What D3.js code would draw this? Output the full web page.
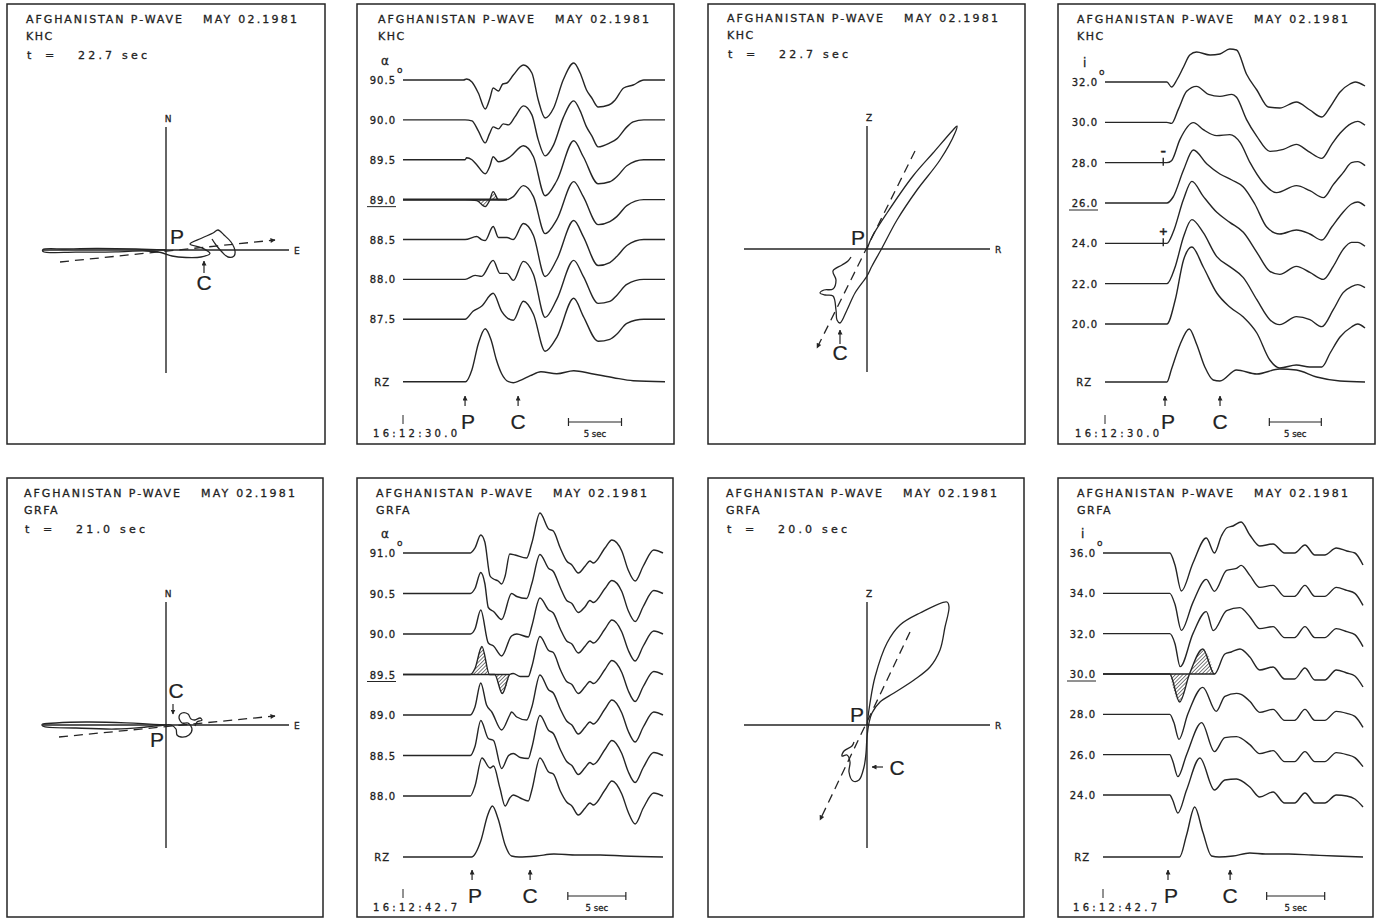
<!DOCTYPE html>
<html>
<head>
<meta charset="utf-8">
<script src="https://cdn.jsdelivr.net/npm/d3@7"></script>
<style>
  body { margin: 0; background: #fff; }
  svg text { font-family: "DejaVu Sans", sans-serif; fill: #222; stroke: #222; stroke-width: 0.3px; }
  svg .big { font-family: "Liberation Sans", Arial, sans-serif; stroke-width: 0.2px; }
</style>
</head>
<body>
<svg id="fig" width="1383" height="919"></svg>
<script>

// Header texts.
const eventTitle = "AFGHANISTAN P-WAVE";
const eventDate = "MAY 02.1981";
const stations = ["KHC", "GRFA"];
const neWindows = ["22.7 sec", "21.0 sec"];
const zrWindows = ["22.7 sec", "20.0 sec"];
const startTimes = ["16:12:30.0", "16:12:42.7"];

// Particle motion (E, N) and (R, Z), relative amplitude.
const khcNE = [[0,0],[-3,0.1],[-7,0.15],[-10,0.1],[-12.3,0.05],[-12.3,-0.15],[-9,-0.22],[-5,-0.18],[-2,-0.1],[-0.5,-0.25],[0.6,-0.6],[2,-0.75],[3.5,-0.7],[4.4,-0.35],[3.6,0.2],[2.4,0.6],[3.6,1.2],[4.7,1.7],[5.2,2.0],[5.8,1.5],[6.5,0.8],[6.9,-0.1],[6.8,-0.6],[6.2,-0.7],[5.6,-0.2],[5.0,0.5],[4.6,1.1]];
const khcNEPol = [[-10.6,-1.2],[10.9,1.0]];
const grfaNE = [[0,0],[-4,0.22],[-8,0.3],[-11,0.2],[-12.4,0.05],[-12.3,-0.12],[-9,-0.3],[-5,-0.4],[-2,-0.2],[-0.5,-0.05],[0.5,0],[1.0,-0.4],[1.1,-1.0],[1.5,-1.2],[2.3,-1.0],[2.6,-0.4],[2.2,0.2],[1.6,0.2],[1.3,0.8],[1.6,1.2],[2.2,1.1],[2.5,0.6],[2.9,0.5],[3.4,0.7],[3.6,0.5],[3.1,0.3],[2.9,-0.1]];
const grfaNEPol = [[-10.7,-1.2],[10.9,0.9]];
const khcZR = [[0,0],[0.5,1.2],[2.0,3.6],[4.6,7.3],[6.6,9.6],[8.6,11.9],[9.0,12.3],[8.8,11.6],[7.3,8.9],[5.0,5.9],[3.0,2.9],[1.5,0.1],[0.5,-1.7],[0,-2.7],[-1.2,-4.4],[-2.0,-6.1],[-2.7,-7.4],[-3.0,-7.1],[-3.1,-6.1],[-3.4,-4.7],[-4.2,-4.6],[-4.7,-4.4],[-4.3,-4.1],[-3.4,-4.0],[-3.1,-3.1],[-3.4,-2.2],[-2.5,-1.6],[-1.9,-1.2],[-1.6,-0.8]];
const khcZRPol = [[4.8,9.8],[-5.0,-9.9]];
const grfaZR = [[0,0],[0.3,2.2],[0.8,4.8],[2.0,8.2],[3.3,10.0],[5.3,11.2],[8.0,12.3],[8.2,11.8],[7.8,9.8],[7.3,7.5],[6.3,5.8],[4.7,4.5],[2.7,3.2],[1.3,2.3],[0.5,1.2],[0.2,0.2],[0,-1.2],[-0.1,-2.8],[-0.3,-4.2],[-0.8,-5.5],[-1.4,-5.6],[-1.8,-4.7],[-1.7,-3.7],[-2.0,-3.0],[-2.5,-3.1],[-2.3,-2.6],[-1.5,-2.1],[-1.3,-1.7]];
const grfaZRPol = [[4.3,9.3],[-4.7,-9.5]];

// Beam traces: [time (s), amplitude].
const khcAzLabels = ["90.5","90.0","89.5","89.0","88.5","88.0","87.5","RZ"];
const khcAzTraces = [
  [[0,0],[5.7,0],[6.0,0.1],[6.5,-0.2],[7.1,-1.3],[7.75,-2.9],[8.2,-1.8],[8.5,-0.8],[9.0,-1.1],[9.4,-0.4],[9.8,-0.3],[10.4,0.5],[11.35,1.5],[12.15,0.7],[12.75,-2.0],[13.4,-3.8],[14.2,-2.8],[15.1,0],[16.1,1.7],[16.7,0.7],[17.3,-1.0],[17.8,-1.8],[18.4,-2.7],[19.4,-2.5],[20.0,-2.0],[20.8,-0.8],[21.7,-0.5],[22.7,0],[24.7,0]],
  [[0,0],[5.85,0],[6.5,-0.1],[7.1,-1.1],[7.75,-2.3],[8.15,-1.4],[8.5,-0.7],[9.0,-0.9],[9.45,-0.4],[9.95,-0.5],[10.55,0.3],[11.35,1.4],[12.15,0.5],[12.75,-2.0],[13.4,-3.6],[14.2,-2.5],[15.1,0.2],[16.1,1.9],[16.7,0.9],[17.3,-0.7],[17.8,-1.6],[18.4,-2.7],[19.5,-2.3],[20.15,-1.9],[21.1,-0.7],[21.7,-0.2],[22.7,0],[24.7,0]],
  [[0,0],[5.85,0],[6.0,0.2],[6.5,0],[6.95,-0.5],[7.75,-1.4],[8.2,-0.6],[8.5,0.3],[9.0,-0.2],[9.45,-0.1],[10.1,0.3],[11.35,1.4],[12.3,0.3],[13.4,-3.6],[14.5,-2.1],[16.1,1.9],[17.0,0.3],[18.4,-2.4],[19.5,-2.2],[20.15,-1.7],[21.1,-0.6],[22.7,0],[24.7,0]],
  [[0,0],[5.85,0],[6.95,-0.1],[7.75,-0.7],[8.15,-0.1],[8.5,0.8],[9.0,0],[9.8,0],[10.4,0.3],[11.35,1.4],[12.3,0.3],[13.4,-3.4],[14.5,-2.0],[16.1,1.8],[17.0,0.3],[18.4,-2.5],[19.5,-2.2],[20.15,-1.7],[21.1,-0.6],[22.7,0],[24.7,0]],
  [[0,0],[5.85,0],[6.95,0.3],[7.4,0],[7.75,-0.1],[8.5,1.3],[9.0,0.2],[9.8,0.2],[10.4,0],[11.35,1.6],[12.3,0.4],[13.4,-3.7],[14.5,-2.0],[16.1,1.9],[17.0,0.3],[18.4,-2.6],[19.5,-2.3],[20.15,-1.7],[21.1,-0.6],[22.7,0],[24.7,0]],
  [[0,0],[5.85,0],[6.8,0.4],[7.4,0.3],[8.5,1.9],[9.15,0.6],[9.8,0.6],[10.4,-0.1],[11.35,1.8],[12.3,0.5],[13.4,-3.8],[14.5,-2.0],[16.1,1.9],[17.0,0.3],[18.4,-2.4],[19.5,-2.2],[20.15,-1.6],[21.1,-0.5],[22.7,0],[24.7,0]],
  [[0,0],[5.85,0],[6.6,0.8],[7.4,1.3],[8.5,2.6],[9.3,0.8],[10.4,-0.1],[11.35,1.8],[12.3,0.5],[13.4,-3.2],[14.5,-1.8],[16.1,2.1],[17.0,0.3],[18.4,-2.2],[19.5,-2.0],[20.15,-1.5],[21.1,-0.4],[22.7,0],[24.7,0]],
  [[0,0],[5.9,0],[6.5,1.2],[7.1,3.8],[7.75,5.3],[8.3,4.2],[8.8,2.2],[9.3,0.8],[9.95,0],[10.4,-0.1],[11.0,0.1],[12.0,0.6],[13.0,1.0],[14.5,0.8],[16.1,1.1],[17.8,0.8],[19.85,0.4],[21.7,0.1],[24.7,0]]
];

const khcIncLabels = ["32.0","30.0","28.0","26.0","24.0","22.0","20.0","RZ"];
const khcIncTraces = [
  [[0,0],[5.95,0],[6.4,-0.5],[6.9,0.2],[7.55,1.5],[8.15,2.7],[8.8,3.0],[10.1,2.7],[11.05,2.8],[12.0,3.3],[12.65,3.2],[13.6,0.8],[14.6,-0.8],[15.7,-2.5],[16.8,-2.6],[18.4,-2.0],[19.7,-2.8],[20.85,-3.5],[21.65,-2.5],[22.6,-1.0],[23.55,-0.2],[24.05,0],[25,-0.4]],
  [[0,0],[5.95,0],[6.4,-0.1],[7.05,1.3],[7.85,3.1],[8.8,3.6],[9.95,2.8],[11.05,2.6],[12.2,2.8],[12.65,2.5],[13.6,0.3],[14.6,-1.4],[15.85,-2.9],[17.15,-2.7],[18.4,-2.2],[19.55,-2.9],[20.85,-3.6],[21.8,-2.2],[22.6,-1.1],[23.7,-0.1],[24.3,0.1],[25,-0.3]],
  [[0,0],[5.95,0],[6.4,0.2],[7.2,2.3],[8.5,4.0],[9.45,3.3],[10.75,2.7],[12.0,2.8],[13.0,2.0],[13.95,0],[15.2,-2.0],[16.5,-3.0],[18.4,-2.3],[19.7,-2.8],[21.0,-3.5],[21.95,-2.2],[22.9,-1.0],[23.7,0],[24.3,0.1],[25,-0.3]],
  [[0,0],[5.95,0],[6.55,0.6],[7.55,3.3],[8.5,5.3],[9.8,3.9],[11.05,2.9],[12.2,2.3],[13.3,1.6],[14.4,-0.1],[15.55,-2.4],[16.8,-3.1],[18.4,-2.7],[19.7,-3.1],[20.85,-3.7],[21.8,-2.4],[22.75,-1.1],[23.7,-0.1],[24.3,0.1],[25,-0.3]],
  [[0,0],[5.95,0],[6.55,1.1],[7.55,4.4],[8.35,6.2],[9.45,4.7],[10.75,3.1],[12.0,2.1],[13.3,1.1],[14.6,-0.9],[15.85,-2.8],[16.8,-3.1],[18.4,-2.3],[19.7,-2.9],[21.0,-3.6],[21.95,-2.3],[22.9,-0.6],[23.7,0.1],[24.3,0.1],[25,-0.3]],
  [[0,0],[5.95,0],[6.75,1.7],[7.55,4.7],[8.35,6.4],[9.45,5.1],[10.75,2.7],[12.0,1.7],[13.3,0.6],[14.6,-1.6],[15.85,-3.6],[16.8,-4.1],[18.4,-3.3],[19.7,-3.6],[20.85,-4.3],[21.95,-2.6],[22.9,-0.9],[23.7,-0.3],[24.3,-0.1],[25,-0.4]],
  [[0,0],[5.95,0],[6.75,2.4],[7.55,6.4],[8.35,7.7],[9.45,5.7],[10.75,3.1],[12.0,1.7],[13.3,0.7],[14.6,-0.9],[15.85,-3.6],[16.8,-4.4],[18.4,-4.1],[19.7,-4.3],[20.85,-4.3],[21.65,-2.9],[22.6,-1.3],[23.7,-0.3],[24.3,0],[25,-0.4]],
  [[0,0],[5.95,0],[6.4,1.3],[7.2,3.7],[8.1,5.3],[8.8,3.8],[9.6,1.5],[10.4,0.2],[11.05,0.1],[12.65,1.2],[14.6,0.8],[16.8,1.3],[18.4,1.2],[20.35,0.5],[22.6,0.1],[25,0]]
];

const grfaAzLabels = ["91.0","90.5","90.0","89.5","89.0","88.5","88.0","RZ"];
const grfaAzTraces = [
  [[0,0],[5.8,0],[6.2,0.5],[6.7,1.8],[7.05,1.1],[7.5,-2.3],[7.8,-2.6],[8.2,-2.8],[8.5,-3.1],[8.8,-2.3],[9.2,-0.1],[9.65,-0.2],[10.65,-0.5],[11.1,1.0],[11.8,4.0],[12.55,2.4],[12.95,2.2],[13.55,0.5],[14.1,-0.8],[14.55,-1.2],[15.1,-2.0],[15.7,-1.3],[16.1,-0.8],[16.4,-1.0],[17.4,0.5],[18.0,1.3],[18.85,0.2],[19.4,-1.7],[20.0,-2.8],[20.7,-1.3],[21.6,0.3],[22.4,0]],
  [[0,0],[5.8,0],[6.2,0.5],[6.7,2.1],[7.05,1.0],[7.35,-1.4],[7.8,-1.8],[8.5,-2.6],[9.35,0],[9.8,-0.3],[10.65,-0.5],[11.1,1.0],[11.8,3.9],[12.55,2.5],[12.95,2.2],[13.55,0.6],[14.1,-0.7],[14.55,-1.0],[15.1,-1.9],[15.7,-1.3],[16.1,-0.7],[16.4,-0.9],[17.4,0.5],[18.0,1.3],[18.85,0.2],[19.4,-1.7],[20.0,-2.8],[20.7,-1.3],[21.6,0.3],[22.4,0]],
  [[0,0],[5.8,0],[6.2,0.5],[6.7,2.4],[7.35,-0.9],[7.8,-1.2],[8.5,-2.2],[9.35,-0.2],[9.8,0],[10.8,-0.3],[11.1,0.8],[11.8,3.6],[12.55,2.4],[12.95,2.1],[13.55,0.5],[14.1,-0.7],[14.55,-1.0],[15.1,-1.9],[15.7,-1.2],[16.1,-0.7],[16.4,-0.9],[17.4,0.5],[18.0,1.4],[18.85,0.2],[19.4,-1.6],[20.0,-2.7],[20.7,-1.2],[21.6,0.3],[22.4,0]],
  [[0,0],[5.8,0],[6.2,0.6],[6.8,2.8],[7.45,0],[7.9,0],[8.55,-1.9],[9.2,0],[9.5,0.1],[10.1,-0.2],[10.8,-0.2],[11.1,0.8],[11.8,3.8],[12.55,2.4],[12.95,2.2],[13.55,0.5],[14.1,-0.7],[14.55,-1.0],[15.1,-1.9],[15.7,-1.2],[16.1,-0.7],[16.4,-0.9],[17.4,0.5],[18.0,1.4],[18.85,0.2],[19.4,-1.6],[20.0,-2.7],[20.7,-1.2],[21.6,0.3],[22.4,0]],
  [[0,0],[5.8,0],[6.2,0.8],[6.7,3.2],[7.2,1.0],[7.65,0.3],[8.5,-1.5],[9.2,0],[9.35,0.3],[9.8,-0.2],[10.65,-0.5],[11.1,0.8],[11.8,4.0],[12.55,2.5],[12.95,2.2],[13.55,0.6],[14.1,-0.6],[14.55,-1.0],[15.1,-1.9],[15.7,-1.2],[16.1,-0.7],[16.4,-0.9],[17.4,0.6],[18.0,1.5],[18.85,0.2],[19.4,-1.6],[20.0,-2.7],[20.7,-1.2],[21.6,0.3],[22.4,0]],
  [[0,0],[5.8,0],[6.2,0.9],[6.7,3.5],[7.35,1.7],[7.8,1.5],[8.5,-1.3],[9.1,0],[9.5,0.2],[10.1,-0.2],[10.8,-0.3],[11.1,0.8],[11.8,4.0],[12.55,2.5],[12.95,2.2],[13.55,0.6],[14.1,-0.6],[14.55,-1.0],[15.1,-1.9],[15.7,-1.2],[16.1,-0.7],[16.4,-0.9],[17.4,0.6],[18.0,1.5],[18.85,0.2],[19.4,-1.6],[20.0,-2.7],[20.7,-1.2],[21.6,0.3],[22.4,0]],
  [[0,0],[5.8,0],[6.2,1.0],[6.8,3.8],[7.5,2.8],[7.8,3.0],[8.35,0.8],[8.8,-1.0],[9.2,-0.2],[9.5,0.1],[10.1,-0.2],[10.8,-0.5],[11.1,0.6],[11.8,3.8],[12.55,2.4],[12.95,2.2],[13.55,0.5],[14.1,-0.6],[14.55,-1.0],[15.1,-1.9],[15.7,-1.2],[16.1,-0.7],[16.4,-0.9],[17.4,0.6],[18.0,1.5],[18.85,0.2],[19.4,-1.6],[20.0,-2.8],[20.7,-1.2],[21.6,0.3],[22.4,0]],
  [[0,0],[5.9,0],[6.7,1.6],[7.3,4.2],[7.7,5.1],[8.2,3.8],[8.8,1.2],[9.35,0.1],[10,0],[11.5,0.1],[13,0.3],[15,0.2],[17,0.2],[19,0.1],[22.4,0]]
];

const grfaIncLabels = ["36.0","34.0","32.0","30.0","28.0","26.0","24.0","RZ"];
const grfaIncTraces = [
  [[0,0],[5.75,0],[6.2,-1.2],[6.75,-3.8],[7.75,-1.0],[8.9,1.5],[9.6,0],[10.2,1.7],[10.65,2.5],[11.2,2.7],[11.9,3.1],[12.65,1.8],[13.5,0.7],[14.65,0.9],[15.65,0],[16.5,0],[17.4,0.8],[18.25,-0.2],[19.1,-0.2],[20.1,0.5],[21.0,0.2],[21.7,0],[22.4,-1.2]],
  [[0,0],[5.75,0],[6.2,-1.1],[6.75,-3.7],[7.75,-0.9],[8.9,1.4],[9.6,0.2],[10.65,2.3],[11.5,2.5],[11.9,2.8],[12.65,1.8],[13.5,0.6],[14.65,0.8],[15.65,-0.3],[16.5,-0.3],[17.4,0.8],[18.25,-0.3],[19.1,-0.3],[20.1,0.6],[21.0,0.3],[21.7,0],[22.4,-1.2]],
  [[0,0],[5.75,0],[6.2,-1.0],[6.65,-3.3],[7.75,0],[8.9,2.2],[9.5,0.3],[10.65,2.3],[11.8,2.6],[12.65,1.7],[13.5,0.5],[14.65,0.7],[15.65,-0.4],[16.5,-0.4],[17.4,0.7],[18.25,-0.4],[19.1,-0.4],[20.1,0.5],[21.0,0.2],[21.7,-0.1],[22.4,-1.3]],
  [[0,0],[5.75,0],[6.6,-2.8],[7.45,0],[8.6,2.5],[9.6,0],[10.5,2.0],[11.05,2.2],[11.8,2.5],[12.65,1.7],[13.5,0.4],[14.65,0.7],[15.65,-0.5],[16.5,-0.5],[17.4,0.6],[18.25,-0.6],[19.1,-0.6],[20.1,0.4],[21.0,0.1],[21.7,-0.2],[22.4,-1.3]],
  [[0,0],[5.75,0],[6.1,-0.8],[6.55,-2.5],[7.3,0],[8.6,2.7],[9.75,0.3],[10.5,1.8],[11.5,2.1],[11.9,2.0],[12.65,1.3],[13.5,0.2],[14.65,0.5],[15.65,-0.6],[16.5,-0.6],[17.4,0.5],[18.25,-0.6],[19.1,-0.6],[20.1,0.3],[21.0,0.1],[21.7,-0.2],[22.4,-1.3]],
  [[0,0],[5.75,0],[6.0,-0.6],[6.45,-2.2],[7.2,0],[8.5,3.2],[9.6,0.3],[10.5,1.7],[11.5,1.8],[12.65,1.0],[13.5,0.1],[14.65,0.4],[15.65,-0.7],[16.5,-0.7],[17.4,0.3],[18.25,-0.7],[19.1,-0.7],[20.1,0.2],[21.0,0],[21.7,-0.3],[22.4,-1.2]],
  [[0,0],[5.75,0],[6.0,-0.5],[6.45,-1.8],[7.2,0.5],[8.35,3.7],[9.6,0.5],[10.5,1.5],[11.5,1.6],[12.65,0.8],[13.5,-0.2],[14.65,0.3],[15.65,-0.8],[16.5,-0.8],[17.4,0.2],[18.25,-0.8],[19.1,-0.8],[20.1,0],[21.0,-0.1],[21.7,-0.4],[22.4,-1.2]],
  [[0,0],[6.6,0],[7.2,2.2],[7.9,5.0],[8.6,2.5],[9.35,0.1],[10,0],[11.2,0.1],[12.65,0.4],[14,0.3],[16,0.3],[18,0.2],[20,0.1],[22.4,0]]
];

// Phase picks (s after start time) and 5 s bar start.
const khcPhases = { az: [5.85, 10.85, 15.6], inc: [5.77, 11.06, 15.8] };
const grfaPhases = { az: [5.95, 10.95, 14.2], inc: [5.6, 10.95, 14.1] };

const ink = "#252525";
const svg = d3.select("#fig");
const defs = svg.append("defs");

// Hatch fill for the chosen beam.
defs.append("pattern")
    .attr("id", "hatch")
    .attr("patternUnits", "userSpaceOnUse")
    .attr("width", 2.6).attr("height", 2.6)
    .attr("patternTransform", "rotate(45)")
  .append("line")
    .attr("x1", 0).attr("y1", 0).attr("x2", 0).attr("y2", 2.6)
    .attr("stroke", ink).attr("stroke-width", 1.2);

// Arrow heads.
function marker(id, w, h) {
    defs.append("marker")
        .attr("id", id)
        .attr("viewBox", "0 0 10 10")
        .attr("refX", 9).attr("refY", 5)
        .attr("markerUnits", "userSpaceOnUse")
        .attr("markerWidth", w).attr("markerHeight", h)
        .attr("orient", "auto")
      .append("path")
        .attr("d", "M0,0 L10,5 L0,10 Z")
        .attr("fill", ink);
}
marker("pol", 10, 5);
marker("tick", 5, 5);

function frame(x, y, w, h) {
    svg.append("rect")
        .attr("x", x).attr("y", y).attr("width", w).attr("height", h)
        .attr("fill", "none").attr("stroke", ink).attr("stroke-width", 1.5);
}

function header(px, py, station, win) {
    const g = svg.append("g").style("font-size", "11px");
    g.append("text").attr("x", px + 19).attr("y", py + 19)
        .attr("textLength", 156).attr("lengthAdjust", "spacing").text(eventTitle);
    g.append("text").attr("x", px + 196).attr("y", py + 19)
        .attr("textLength", 94).attr("lengthAdjust", "spacing").text(eventDate);
    g.append("text").attr("x", px + 19).attr("y", py + 36)
        .style("letter-spacing", "1.5px").text(station);
    if (win) {
        g.append("text").attr("x", px + 20).attr("y", py + 55).text("t");
        g.append("text").attr("x", px + 38).attr("y", py + 55).text("=");
        g.append("text").attr("x", px + 71).attr("y", py + 55)
            .attr("textLength", 69).attr("lengthAdjust", "spacing").text(win);
    }
}

function upArrow(g, x1, y1, x2, y2) {
    g.append("line")
        .attr("x1", x1).attr("y1", y1).attr("x2", x2).attr("y2", y2)
        .attr("stroke", ink).attr("stroke-width", 1.2)
        .attr("marker-end", "url(#tick)");
}

function bigLetter(g, x, y, s, anchor) {
    g.append("text").attr("class", "big")
        .attr("x", x).attr("y", y)
        .attr("text-anchor", anchor || "middle")
        .style("font-size", "21px")
        .text(s);
}

// Hodogram panel.
function drawHodo(cfg) {
    const g = svg.append("g");
    const lim = 12.3;
    const x = d3.scaleLinear().domain([-lim, lim]).range([cfg.cx - 123, cfg.cx + 123]);
    const y = d3.scaleLinear().domain([-lim, lim]).range([cfg.cy + 123, cfg.cy - 123]);

    g.append("line").attr("x1", x(-lim)).attr("x2", x(lim)).attr("y1", y(0)).attr("y2", y(0))
        .attr("stroke", ink).attr("stroke-width", 1.4);
    g.append("line").attr("x1", x(0)).attr("x2", x(0)).attr("y1", y(lim)).attr("y2", y(-lim))
        .attr("stroke", ink).attr("stroke-width", 1.4);
    g.append("text").attr("x", x(0) + 2).attr("y", y(lim) - 5)
        .attr("text-anchor", "middle").style("font-size", "9px").text(cfg.vLabel);
    g.append("text").attr("x", x(lim) + 5).attr("y", y(0) + 3.5)
        .style("font-size", "9px").text(cfg.hLabel);

    const path = d3.line().curve(d3.curveCatmullRom.alpha(0.5))
        .x(d => x(d[0])).y(d => y(d[1]));
    g.append("path").attr("d", path(cfg.motion))
        .attr("fill", "none").attr("stroke", ink).attr("stroke-width", 1.3);

    g.append("path").attr("d", d3.line().x(d => x(d[0])).y(d => y(d[1]))(cfg.pol))
        .attr("fill", "none").attr("stroke", ink).attr("stroke-width", 1.3)
        .attr("stroke-dasharray", "9,6")
        .attr("marker-end", "url(#pol)");

    bigLetter(g, cfg.cx + cfg.P[0], cfg.cy + cfg.P[1], "P", cfg.P[2]);
    bigLetter(g, cfg.cx + cfg.C[0], cfg.cy + cfg.C[1], "C");
    const a = cfg.Carrow;
    upArrow(g, cfg.cx + a[0], cfg.cy + a[1], cfg.cx + a[2], cfg.cy + a[3]);
}

// Beam (vespagram) panel.
function drawBeams(cfg) {
    const g = svg.append("g");
    const x = d3.scaleLinear().domain([0, cfg.tEnd]).range([cfg.x0, cfg.x1]);
    const row = d3.scaleLinear().domain([0, 6]).range([cfg.baseTop, cfg.baseBottom]);
    const amp = d3.scaleLinear().domain([0, 1]).range([0, -10]);
    const baseOf = i => i < 7 ? row(i) : cfg.baseRZ;

    cfg.traces.forEach((tr, i) => {
        const b = baseOf(i);
        const line = d3.line().curve(d3.curveMonotoneX)
            .x(d => x(d[0])).y(d => b + amp(d[1]));

        if (i === cfg.selected) {
            const win = tr.filter(d => d[0] >= cfg.hatch[0] && d[0] <= cfg.hatch[1]);
            const area = d3.area().curve(d3.curveMonotoneX)
                .x(d => x(d[0])).y0(b).y1(d => b + amp(d[1]));
            g.append("path").attr("d", area(win))
                .attr("fill", "url(#hatch)").attr("stroke", "none");
            g.append("line")
                .attr("x1", x(0)).attr("x2", x(cfg.hatch[1]))
                .attr("y1", b).attr("y2", b)
                .attr("stroke", ink).attr("stroke-width", cfg.bold ? 2.2 : 1.4);
            g.append("line")
                .attr("x1", cfg.x0 - 36).attr("x2", cfg.x0 - 7)
                .attr("y1", b + 7).attr("y2", b + 7)
                .attr("stroke", ink).attr("stroke-width", 1);
        }

        g.append("path").attr("d", line(tr))
            .attr("fill", "none").attr("stroke", ink).attr("stroke-width", 1.4);

        g.append("text")
            .attr("x", i < 7 ? cfg.x0 - 7 : cfg.x0 - 13)
            .attr("y", b + 4)
            .attr("text-anchor", "end")
            .style("font-size", "10px").style("letter-spacing", "1px")
            .text(cfg.labels[i]);
    });

    // Slowness symbol and degree mark.
    g.append("text").attr("x", cfg.x0 - 22).attr("y", row(0) - 15)
        .style("font-size", "12px").text(cfg.symbol);
    g.append("text").attr("x", cfg.x0 - 6).attr("y", row(0) - 7)
        .style("font-size", "9px").text("o");

    // Polarity marks.
    (cfg.marks || []).forEach(m => {
        const b = row(m[0]);
        g.append("line").attr("x1", x(m[1])).attr("x2", x(m[1]))
            .attr("y1", b - 5).attr("y2", b + 3)
            .attr("stroke", ink).attr("stroke-width", 1.4);
        g.append("text").attr("x", x(m[1])).attr("y", b - 8)
            .attr("text-anchor", "middle").style("font-size", "11px")
            .style("font-weight", "bold").text(m[2]);
    });

    // Time axis: start tick and label, phase arrows, 5 s bar.
    const py = cfg.py;
    g.append("line").attr("x1", x(0)).attr("x2", x(0))
        .attr("y1", py + 411).attr("y2", py + 420)
        .attr("stroke", ink).attr("stroke-width", 1);
    g.append("text").attr("x", cfg.x0 - 30).attr("y", py + 433)
        .attr("textLength", 84).attr("lengthAdjust", "spacing")
        .style("font-size", "10px").text(cfg.start);

    const [tP, tC, tBar] = cfg.phases;
    [[tP, "P"], [tC, "C"]].forEach(([t, s]) => {
        upArrow(g, x(t), py + 402, x(t), py + 392);
        bigLetter(g, x(t) + (s === "P" ? 3 : 0), py + 425, s);
    });

    const bx0 = x(tBar), bx1 = x(tBar + 5), by = py + 418;
    g.append("path")
        .attr("d", `M${bx0},${by - 4}V${by + 4}M${bx0},${by}H${bx1}M${bx1},${by - 4}V${by + 4}`)
        .attr("fill", "none").attr("stroke", ink).attr("stroke-width", 1.2);
    g.append("text").attr("x", (bx0 + bx1) / 2).attr("y", py + 433)
        .attr("text-anchor", "middle").style("font-size", "8.5px").text("5 sec");
}

// Frames.
frame(7, 4, 318, 440);
frame(357, 4, 317, 440);
frame(708, 4, 317, 440);
frame(1058, 4, 317, 440);
frame(7, 478, 316, 439);
frame(357, 478, 316, 439);
frame(708, 478, 316, 439);
frame(1058, 478, 315, 439);

// Headers.
header(7, 4, stations[0], neWindows[0]);
header(359, 4, stations[0]);
header(708, 3, stations[0], zrWindows[0]);
header(1058, 4, stations[0]);
header(5, 478, stations[1], neWindows[1]);
header(357, 478, stations[1]);
header(707, 478, stations[1], zrWindows[1]);
header(1058, 478, stations[1]);

// Hodograms.
drawHodo({ cx: 166, cy: 250, vLabel: "N", hLabel: "E", motion: khcNE, pol: khcNEPol,
           P: [4, -6, "start"], C: [38, 40], Carrow: [38, 23, 38, 11] });
drawHodo({ cx: 867, cy: 249, vLabel: "Z", hLabel: "R", motion: khcZR, pol: khcZRPol,
           P: [-9, -4], C: [-27, 111], Carrow: [-27, 95, -27, 81] });
drawHodo({ cx: 166, cy: 725, vLabel: "N", hLabel: "E", motion: grfaNE, pol: grfaNEPol,
           P: [-9, 22], C: [10, -27], Carrow: [7, -21, 7, -11] });
drawHodo({ cx: 867, cy: 725, vLabel: "Z", hLabel: "R", motion: grfaZR, pol: grfaZRPol,
           P: [-10, -3], C: [30, 50], Carrow: [16, 42, 5, 42] });

// Beam panels.
drawBeams({ py: 4, x0: 403, x1: 665, tEnd: 24.7, baseTop: 80, baseBottom: 319.3, baseRZ: 381.7,
            labels: khcAzLabels, traces: khcAzTraces, selected: 3, hatch: [5.7, 9.8], bold: true,
            symbol: "α", start: startTimes[0], phases: khcPhases.az });
drawBeams({ py: 4, x0: 1105, x1: 1365, tEnd: 25.0, baseTop: 82, baseBottom: 324, baseRZ: 382,
            labels: khcIncLabels, traces: khcIncTraces, selected: 3, hatch: [0, 0],
            symbol: "i", start: startTimes[0], phases: khcPhases.inc,
            marks: [[2, 5.6, "–"], [4, 5.6, "+"]] });
drawBeams({ py: 478, x0: 403, x1: 663, tEnd: 22.4, baseTop: 553, baseBottom: 796, baseRZ: 857,
            labels: grfaAzLabels, traces: grfaAzTraces, selected: 3, hatch: [5.8, 9.2],
            symbol: "α", start: startTimes[1], phases: grfaPhases.az });
drawBeams({ py: 478, x0: 1103, x1: 1363, tEnd: 22.4, baseTop: 553, baseBottom: 795, baseRZ: 857,
            labels: grfaIncLabels, traces: grfaIncTraces, selected: 3, hatch: [5.75, 9.6],
            symbol: "i", start: startTimes[1], phases: grfaPhases.inc });

</script>
</body>
</html>
